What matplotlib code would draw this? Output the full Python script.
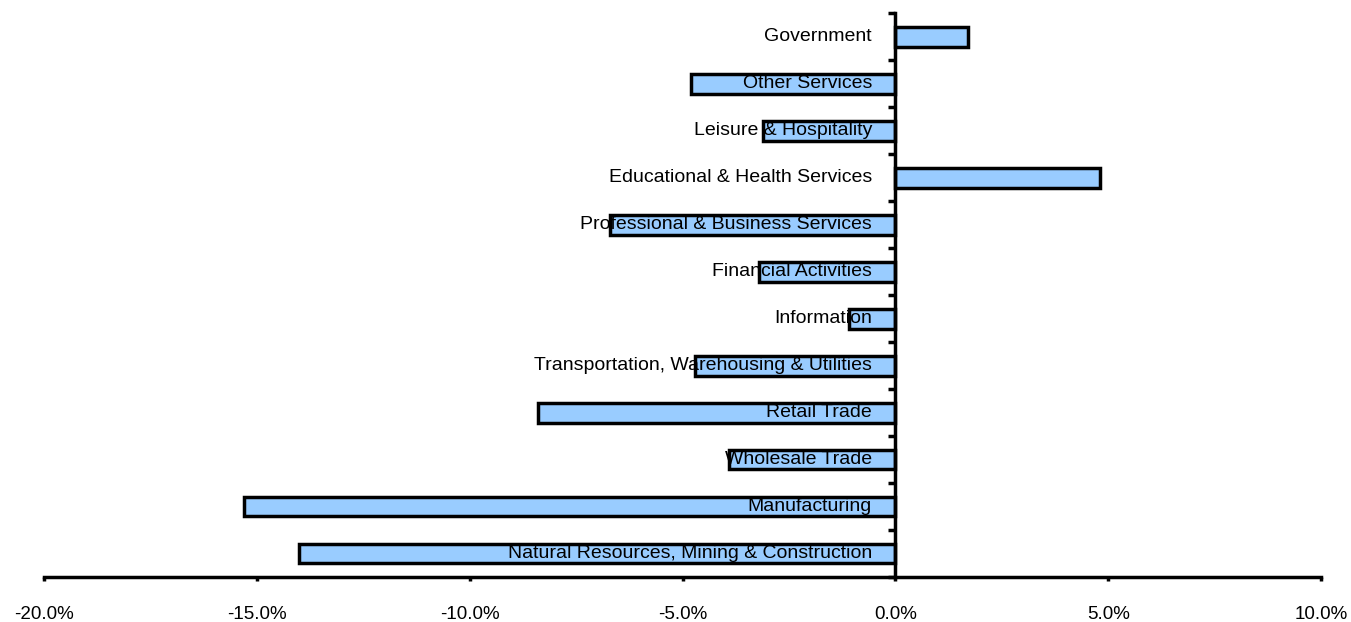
import matplotlib
matplotlib.use("Agg")
import matplotlib.pyplot as plt
import numpy as np
from matplotlib.ticker import FuncFormatter, FixedLocator

# categories listed bottom to top
categories = [
    "Natural Resources, Mining & Construction",
    "Manufacturing",
    "Wholesale Trade",
    "Retail Trade",
    "Transportation, Warehousing & Utilities",
    "Information",
    "Financial Activities",
    "Professional & Business Services",
    "Educational & Health Services",
    "Leisure & Hospitality",
    "Other Services",
    "Government",
]
pct_change = [-14.0, -15.3, -3.9, -8.4, -4.7, -1.1, -3.2, -6.7, 4.8, -3.1, -4.8, 1.7]
x_ticks = [-20, -15, -10, -5, 0, 5, 10]

plt.rcParams["font.family"] = ["Liberation Sans", "DejaVu Sans"]

fig = plt.figure(figsize=(13.51, 6.22), dpi=100)
ax = fig.add_axes([0.0326, 0.0723, 0.9452, 0.906])

y = np.arange(len(categories))
ax.barh(y, pct_change, height=0.42, color="#99CCFF", edgecolor="black", linewidth=2.5, zorder=2)

# category names sit just left of the zero line, over the bars
for yi, name in zip(y, categories):
    ax.text(-0.55, yi, name, ha="right", va="center", fontsize=14, color="black", zorder=3)

ax.set_xlim(-20, 10)
ax.set_ylim(-0.5, len(categories) - 0.5)

ax.spines["top"].set_visible(False)
ax.spines["right"].set_visible(False)
ax.spines["left"].set_position(("data", 0))
ax.spines["left"].set_linewidth(2.5)
ax.spines["bottom"].set_linewidth(2.5)

ax.xaxis.set_major_locator(FixedLocator(x_ticks))
ax.xaxis.set_major_formatter(FuncFormatter(lambda v, _: f"{v:.1f}%"))
ax.tick_params(axis="x", direction="out", length=3, width=2.5, pad=18, labelsize=13.5)

ax.set_yticks([])
ax.yaxis.set_minor_locator(FixedLocator(np.arange(-0.5, len(categories), 1.0)))
ax.tick_params(axis="y", which="minor", direction="out", length=5, width=2.5)

fig.savefig("out.png", dpi=100)
